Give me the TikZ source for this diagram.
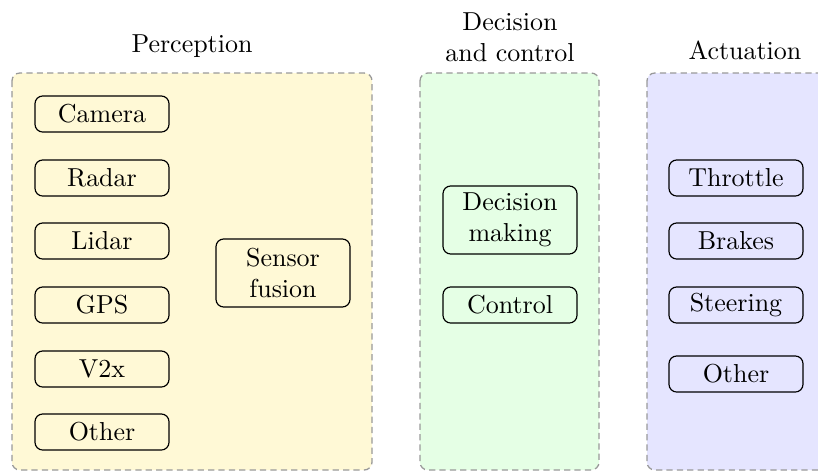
\documentclass[tikz,border=0pt]{standalone}
\begin{document}
\begin{tikzpicture}[x=0.385pt,y=-0.385pt,
  container/.style={draw=gray!80, dashed, dash pattern=on 2.4pt off 1.6pt, line width=0.5pt, rounded corners=3pt},
  item/.style={draw=black, line width=0.45pt, rounded corners=3pt, minimum width=51.6pt, minimum height=13.9pt, inner sep=1pt, align=center},
  bigitem/.style={item, minimum height=26.2pt},
  title/.style={align=center}]
\useasboundingbox (0,0) rectangle (818,472);
% containers
\draw[container, fill={rgb,255:red,255;green,249;blue,214}] (12,73) rectangle (372,470);
\draw[container, fill={rgb,255:red,229;green,255;blue,229}] (420,73) rectangle (599,470);
\draw[container, fill={rgb,255:red,229;green,229;blue,255}] (647,73) rectangle (840,470);
% titles
\node[title] (tp) at (192,46) {Perception};
\node[title] (td) at (510,37) {Decision\\and control};
\node[title] (ta) at (745,50) {Actuation};
% perception
\node[item] (cam) at (102,114) {Camera};
\node[item] (rad) at (102,178) {Radar};
\node[item] (lid) at (102,241) {Lidar};
\node[item] (gps) at (102,305) {GPS};
\node[item] (v2x) at (102,369) {V2x};
\node[item] (oth) at (102,432) {Other};
\node[bigitem] (fus) at (283,273) {Sensor\\fusion};
% decision
\node[bigitem] (dec) at (510,220) {Decision\\making};
\node[item] (ctl) at (510,305) {Control};
% actuation
\node[item] (thr) at (736,178) {Throttle};
\node[item] (brk) at (736,241) {Brakes};
\node[item] (ste) at (736,305) {Steering};
\node[item] (aot) at (736,374) {Other};
\end{tikzpicture}
\end{document}
